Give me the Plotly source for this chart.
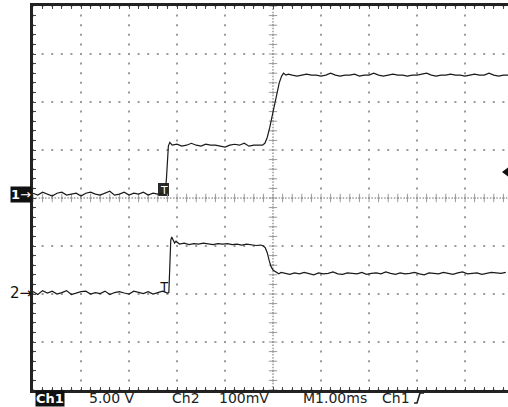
import numpy as np
import plotly.graph_objects as go

# ---------------- data ----------------
# Channel 1 (volts, 5.00 V/div), time in ms (1.00 ms/div, 0 = screen centre)
ch1_a_start, ch1_a_step = -5.0, 0.1
ch1_a = [0.1, -0.1, 0.2, 0.0, -0.2, 0.1, 0.2, -0.1, 0.0, 0.1, -0.2, 0.1, 0.2, 0.0,
         -0.1, 0.1, 0.3, -0.1, 0.0, 0.2, -0.1, 0.1, 0.0, 0.2, -0.1, 0.1, 0.0, 0.1]
ch1_e1_t = [-2.25, -2.22, -2.20, -2.18, -2.15, -2.10]
ch1_e1_v = [0.0, 1.6, 3.4, 5.0, 5.4, 5.1]
ch1_b_start, ch1_b_step = -2.0, 0.1
ch1_b = [5.2, 5.0, 5.1, 5.3, 5.1, 5.0, 5.2, 5.1, 5.1, 5.0, 4.9, 5.1, 5.2, 5.1, 5.3, 5.0, 5.1, 5.1]
ch1_e2_t = [-0.22, -0.17, -0.12, -0.07, -0.02, 0.03, 0.08, 0.13, 0.18, 0.22, 0.27, 0.32]
ch1_e2_v = [5.1, 5.3, 5.9, 6.9, 8.1, 9.4, 10.6, 11.6, 12.3, 12.6, 12.4, 12.5]
ch1_c_start, ch1_c_step = 0.4, 0.1
ch1_c = [12.4, 12.3, 12.4, 12.5, 12.4, 12.4, 12.3, 12.4, 12.6, 12.4,
         12.3, 12.4, 12.4, 12.5, 12.3, 12.4, 12.4, 12.6, 12.4, 12.3,
         12.4, 12.5, 12.4, 12.4, 12.3, 12.4, 12.4, 12.5, 12.6, 12.4,
         12.3, 12.4, 12.4, 12.5, 12.4, 12.4, 12.3, 12.4, 12.5, 12.4,
         12.4, 12.6, 12.4, 12.3, 12.4, 12.4]

# Channel 2 (millivolts, 100 mV/div)
ch2_a_start, ch2_a_step = -5.0, 0.1
ch2_a = [3, -3, 5, 0, 4, -2, 1, 5, -3, 0, 3, 4, -2, 1, -1, 4, -3, 1, 3, 0,
         -2, 4, 1, -1, 3, -2, 1, 4, 0]
ch2_e1_t = [-2.17, -2.15, -2.13, -2.11, -2.08, -2.05, -2.02]
ch2_e1_v = [1, 55, 110, 117, 110, 104, 108]
ch2_b_start, ch2_b_step = -1.95, 0.1
ch2_b = [102, 104, 101, 103, 102, 104, 102, 101, 103, 102, 103, 101, 102, 100, 102, 101, 99]
ch2_e2_t = [-0.25, -0.20, -0.16, -0.12, -0.08, -0.04, 0.0, 0.04, 0.08, 0.12, 0.17]
ch2_e2_v = [100, 98, 94, 84, 68, 55, 48, 45, 42, 40, 43]
ch2_c_start, ch2_c_step = 0.25, 0.1
ch2_c = [41, 39, 42, 40, 43, 41, 38, 42, 40, 41, 44, 40, 39, 42, 41, 40, 43, 39, 41, 42,
         40, 44, 41, 39, 42, 40, 41, 43, 40, 38, 42, 41, 40, 43, 41, 39, 42, 44, 40, 41,
         42, 39, 41, 43, 42, 41, 43]

ch1_scale, ch1_offset_div = 5.0, 0.08      # V/div, ground marker position (div)
ch2_scale, ch2_offset_div = 100.0, -1.98   # mV/div

labels_bottom = ["Ch1", "5.00 V", "Ch2", "100mV", "M1.00ms", "Ch1"]


def seg(start, step, vals):
    return [start + step * i for i in range(len(vals))], list(vals)


def build(parts):
    t, v = [], []
    for pt, pv in parts:
        t += pt
        v += pv
    return t, v


ch1_t, ch1_v = build([seg(ch1_a_start, ch1_a_step, ch1_a), (ch1_e1_t, ch1_e1_v),
                      seg(ch1_b_start, ch1_b_step, ch1_b), (ch1_e2_t, ch1_e2_v),
                      seg(ch1_c_start, ch1_c_step, ch1_c)])
ch2_t, ch2_v = build([seg(ch2_a_start, ch2_a_step, ch2_a), (ch2_e1_t, ch2_e1_v),
                      seg(ch2_b_start, ch2_b_step, ch2_b), (ch2_e2_t, ch2_e2_v),
                      seg(ch2_c_start, ch2_c_step, ch2_c)])

ch1_y = [v / ch1_scale + ch1_offset_div for v in ch1_v]
ch2_y = [v / ch2_scale + ch2_offset_div for v in ch2_v]

# ---------------- layout geometry ----------------
W, H = 508, 407
L, T, B = 33, 6, 17
PW, PH = W - L, H - T - B            # 475 x 384  -> 48 px / div
XMIN, YMIN, YMAX = -5.0, -4.0, 4.0
XMAX = XMIN + PW / 48.0


def P(px, py):
    return (px - L) / PW, (H - B - py) / PH


fig = go.Figure()

# graticule dots
grid_col = "#9a9a9a"
gx, gy = [], []
for k in range(-5, 6):
    for j in range(41):
        gx.append(k); gy.append(-4 + 0.2 * j)
for m in range(-4, 5):
    for i in range(51):
        gx.append(-5 + 0.2 * i); gy.append(m)
fig.add_trace(go.Scatter(x=gx, y=gy, mode="markers", hoverinfo="skip",
                         marker=dict(symbol="square", size=2, color=grid_col)))
# centre crosshair: fine dots + ticks
cx, cy = [], []
for j in range(121):
    cx.append(0); cy.append(-4 + j / 15.0)
for i in range(151):
    cx.append(-5 + i / 15.0); cy.append(0)
fig.add_trace(go.Scatter(x=cx, y=cy, mode="markers", hoverinfo="skip",
                         marker=dict(symbol="square", size=1.5, color=grid_col)))
fig.add_trace(go.Scatter(x=[0] * 41, y=[-4 + 0.2 * j for j in range(41)], mode="markers",
                         hoverinfo="skip",
                         marker=dict(symbol="line-ew", size=6, line=dict(width=1, color=grid_col))))
fig.add_trace(go.Scatter(x=[-5 + 0.2 * i for i in range(51)], y=[0] * 51, mode="markers",
                         hoverinfo="skip",
                         marker=dict(symbol="line-ns", size=6, line=dict(width=1, color=grid_col))))

# traces
fig.add_trace(go.Scatter(x=ch1_t, y=ch1_y, mode="lines", line=dict(color="#1a1a1a", width=1.2)))
fig.add_trace(go.Scatter(x=ch2_t, y=ch2_y, mode="lines", line=dict(color="#1a1a1a", width=1.2)))

shapes = []
# trigger box on ch1
x0, y0 = P(158, 196); x1, y1 = P(169, 183)
shapes.append(dict(type="rect", xref="paper", yref="paper", x0=x0, y0=y0, x1=x1, y1=y1,
                   fillcolor="#2a2a2a", line=dict(width=0), layer="below"))
# trigger level arrow at right
a = P(502, 172); b = P(508, 167.5); c = P(508, 176.5)
shapes.append(dict(type="path", xref="paper", yref="paper",
                   path=f"M {a[0]},{a[1]} L {b[0]},{b[1]} L {c[0]},{c[1]} Z",
                   fillcolor="#111", line=dict(width=0)))
# rising-edge trigger glyph in status line
p1 = P(414, 403); p2 = P(417, 403); p3 = P(420, 393); p4 = P(424, 393)
shapes.append(dict(type="path", xref="paper", yref="paper",
                   path=f"M {p1[0]},{p1[1]} L {p2[0]},{p2[1]} L {p3[0]},{p3[1]} L {p4[0]},{p4[1]}",
                   line=dict(color="#222", width=1.6)))

ann = []
fnt = "DejaVu Sans"


def note(px, py, text, size, color, family=fnt, xanchor="center", bg=None):
    x, y = P(px, py)
    d = dict(x=x, y=y, text=text, showarrow=False, xref="paper", yref="paper",
             xanchor=xanchor, yanchor="middle",
             font=dict(family=family, size=size, color=color))
    if bg:
        d.update(bgcolor=bg, borderpad=0)
    ann.append(d)


# ground markers
note(20.5, 194, "<b>1</b>→", 13, "white", bg="#111")
note(20.5, 293, "2→", 15, "#111")
# trigger T marks
note(163.5, 190, "T", 11, "white")
note(164, 287, "T", 14, "#111", family="Liberation Sans")
# status line
note(49.5, 398, "<b>" + labels_bottom[0] + "</b>", 13, "white", bg="#111")
for px, txt in [(87, labels_bottom[1]), (170, labels_bottom[2]), (217, labels_bottom[3]),
                (301, labels_bottom[4]), (380, labels_bottom[5])]:
    note(px, 398, txt, 14, "#222", xanchor="left")

fig.update_layout(
    width=W, height=H, margin=dict(l=L, r=0, t=T, b=B),
    paper_bgcolor="white", plot_bgcolor="white", showlegend=False,
    shapes=shapes, annotations=ann,
    xaxis=dict(range=[XMIN, XMAX], showgrid=False, zeroline=False, showticklabels=False,
               showline=True, linewidth=3, linecolor="#222", mirror="ticks",
               ticks="inside", tick0=-5, dtick=0.2, ticklen=3, tickcolor="#444", tickwidth=1),
    yaxis=dict(range=[YMIN, YMAX], showgrid=False, zeroline=False, showticklabels=False,
               showline=True, linewidth=3, linecolor="#222",
               ticks="inside", tick0=-4, dtick=0.2, ticklen=3, tickcolor="#444", tickwidth=1),
)

fig.write_html("out.html", config={"displayModeBar": False},
               post_script="document.body.style.margin='0';document.body.style.overflow='hidden';")
